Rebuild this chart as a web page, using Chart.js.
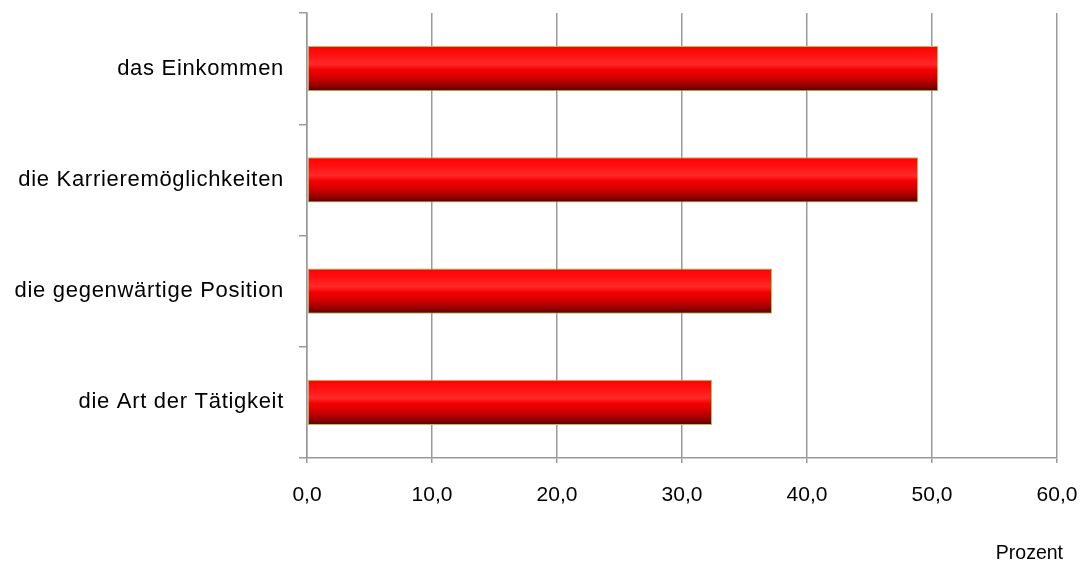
<!DOCTYPE html>
<html lang="de">
<head>
<meta charset="utf-8">
<title>Einkommen und Karriere</title>
<script src="https://cdn.jsdelivr.net/npm/chart.js@4"></script>
<style>
  html, body { margin: 0; padding: 0; background: #ffffff; }
  #wrap { width: 1080px; height: 562px; }
</style>
</head>
<body>
<div id="wrap"><canvas id="chart" width="1080" height="562"></canvas></div>
<script>
// Kategorien (von oben nach unten) und Anteile in Prozent
const categories = [
  'das Einkommen',
  'die Karrieremöglichkeiten',
  'die gegenwärtige Position',
  'die Art der Tätigkeit'
];
const values = [50.5, 48.9, 37.2, 32.4];
const xTicks = [0, 10, 20, 30, 40, 50, 60];
const axisTitle = 'Prozent';

const FONT = "'Liberation Sans', Arial, sans-serif";
const GRID = '#9a9a9a';
const BAR_FRACTION = 0.405;

Chart.defaults.font.family = FONT;
Chart.defaults.color = '#000000';

// Category axis whose labels are drawn slightly letter-spaced
class SpacedCategoryScale extends Chart.CategoryScale {
  drawLabels(area) {
    const c = this.ctx;
    c.save();
    c.letterSpacing = '0.7px';
    super.drawLabels(area);
    c.restore();
  }
}
SpacedCategoryScale.id = 'spacedCategory';
SpacedCategoryScale.defaults = Chart.CategoryScale.defaults;
Chart.register(SpacedCategoryScale);

// Vertical red gradient spanning each bar's thickness
function barGradient(context) {
  const chart = context.chart;
  const y = chart.scales && chart.scales.y;
  if (!y || context.dataIndex === undefined) return '#ff0000';
  const center = y.getPixelForValue(context.dataIndex);
  const h = (y.height / categories.length) * BAR_FRACTION;
  if (!isFinite(center) || !isFinite(h) || h <= 0) return '#ff0000';
  const g = chart.ctx.createLinearGradient(0, center - h / 2, 0, center + h / 2);
  g.addColorStop(0.00, '#ff0000');
  g.addColorStop(0.28, '#ff1a1a');
  g.addColorStop(0.40, '#ff2a2a');
  g.addColorStop(0.52, '#f60000');
  g.addColorStop(0.70, '#d20000');
  g.addColorStop(0.86, '#9c0000');
  g.addColorStop(1.00, '#560000');
  return g;
}

// Axis unit written under the right end of the value axis
const unitLabel = {
  id: 'unitLabel',
  afterDraw(chart) {
    const c = chart.ctx;
    c.save();
    c.font = '19.5px ' + FONT;
    c.fillStyle = '#000000';
    c.textAlign = 'right';
    c.textBaseline = 'middle';
    c.fillText(axisTitle, chart.chartArea.right + 6, chart.height - 8);
    c.restore();
  }
};

new Chart(document.getElementById('chart'), {
  type: 'bar',
  data: {
    labels: categories,
    datasets: [{
      data: values,
      backgroundColor: barGradient,
      borderColor: '#a9c64c',
      borderWidth: 1,
      borderSkipped: false,
      categoryPercentage: 1,
      barPercentage: BAR_FRACTION
    }]
  },
  options: {
    indexAxis: 'y',
    responsive: false,
    animation: false,
    layout: { padding: { top: 13, right: 23, left: 0, bottom: 0 } },
    plugins: {
      legend: { display: false },
      tooltip: { enabled: false }
    },
    scales: {
      x: {
        type: 'linear',
        min: 0,
        max: 60,
        afterBuildTicks(scale) { scale.ticks = xTicks.map(v => ({ value: v })); },
        afterFit(scale) {
          scale.height = 104;
          scale.paddingLeft = 0;
          scale.paddingRight = 0;
        },
        grid: {
          color: GRID,
          lineWidth: 1.5,
          drawTicks: true,
          tickLength: 5,
          tickColor: GRID
        },
        border: { display: true, color: GRID, width: 1.5 },
        ticks: {
          padding: 20,
          font: { size: 21 },
          color: '#000000',
          callback: v => Number(v).toFixed(1).replace('.', ',')
        }
      },
      y: {
        type: 'spacedCategory',
        offset: true,
        afterFit(scale) {
          scale.width = 307;
          scale.paddingTop = 0;
          scale.paddingBottom = 0;
        },
        grid: {
          offset: true,
          drawOnChartArea: false,
          drawTicks: true,
          tickLength: 8,
          color: GRID,
          tickColor: GRID,
          lineWidth: 1.5
        },
        border: { display: true, color: GRID, width: 1.5 },
        ticks: {
          padding: 15,
          font: { size: 22 },
          color: '#000000'
        }
      }
    }
  },
  plugins: [unitLabel]
});
</script>
</body>
</html>
